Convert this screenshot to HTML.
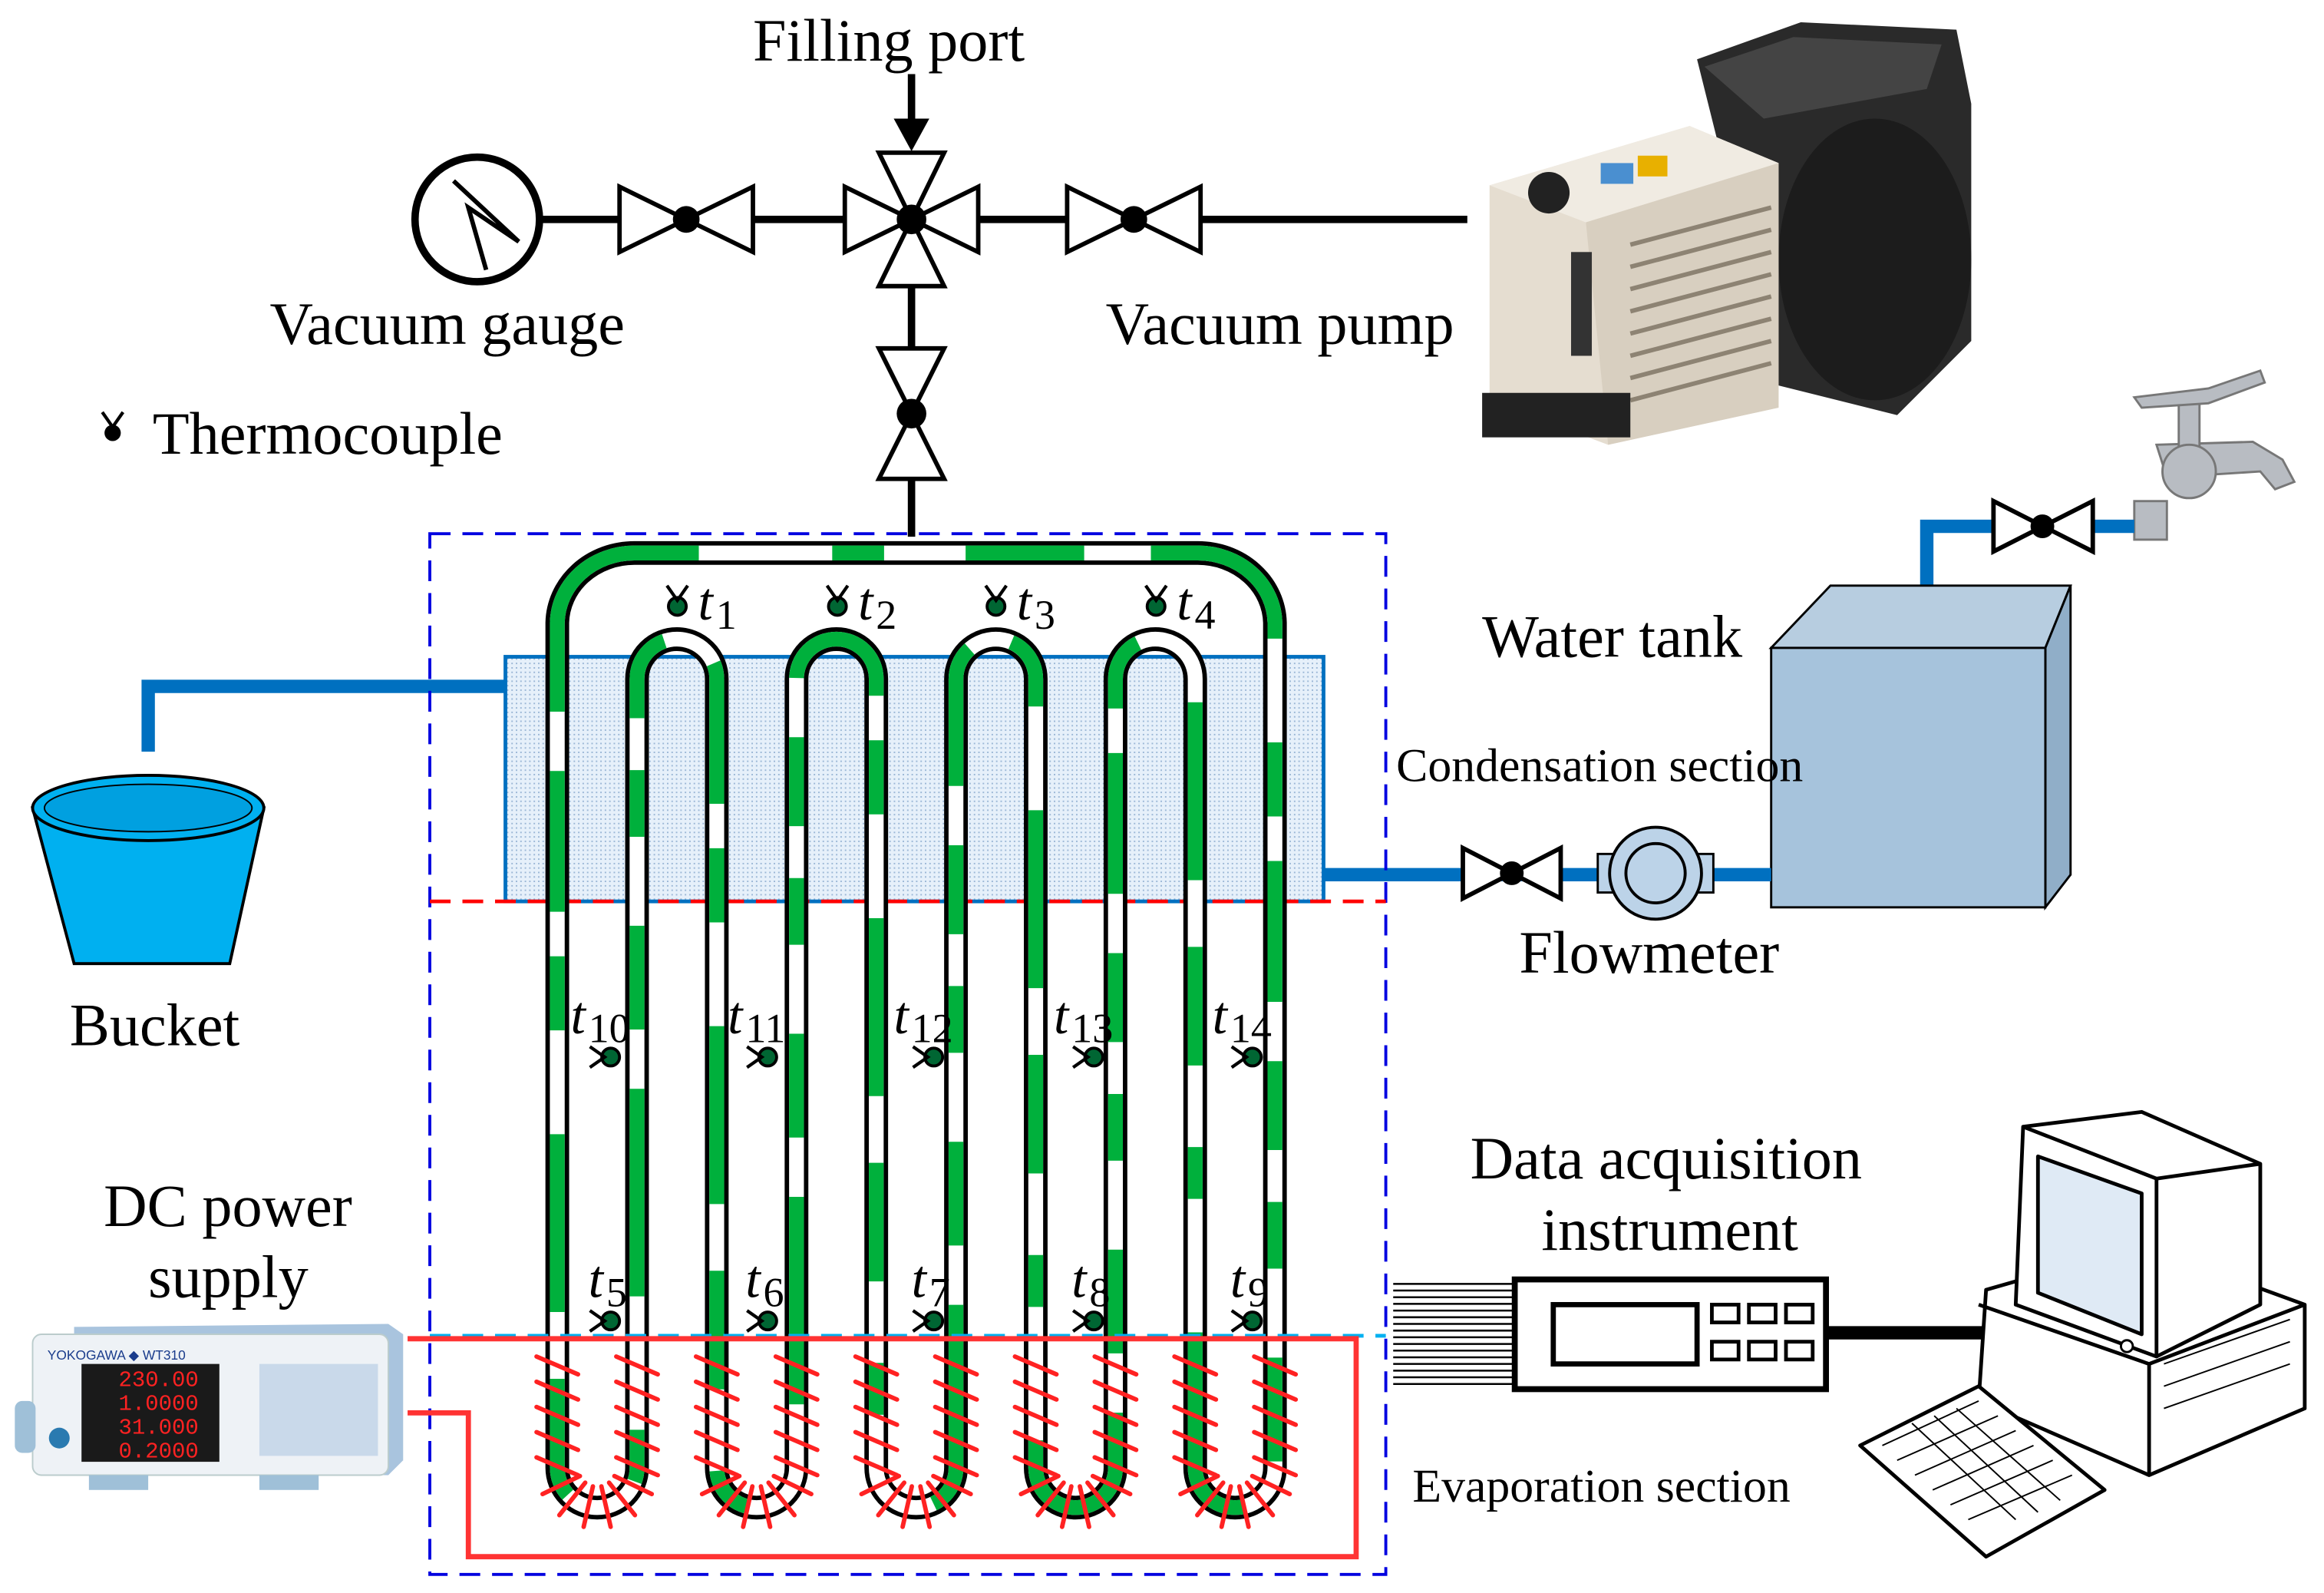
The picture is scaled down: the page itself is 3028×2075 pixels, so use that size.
<!DOCTYPE html>
<html><head><meta charset="utf-8"><style>
html,body{margin:0;padding:0;background:#fff;}
svg{display:block;}
text{font-family:"Liberation Serif",serif;fill:#000;}
</style></head><body>
<svg id="s" width="3028" height="2075" viewBox="0 0 1568 1074.5" preserveAspectRatio="none" xmlns="http://www.w3.org/2000/svg">
<defs>
<pattern id="dots" width="3" height="3" patternUnits="userSpaceOnUse"><rect width="3" height="3" fill="#e6f0fa"/><rect width="1" height="1" fill="#9bb7d6"/></pattern>
</defs>
<rect width="1568" height="1075" fill="#fff"/>

<!-- top piping -->
<line x1="364" y1="148" x2="990" y2="148" stroke="#000" stroke-width="5"/>
<line x1="615" y1="148" x2="615" y2="362" stroke="#000" stroke-width="5"/>
<circle cx="322" cy="148" r="42" fill="#fff" stroke="#000" stroke-width="5"/>
<path d="M306,122 L350,163 L316,140 L328,182" fill="none" stroke="#000" stroke-width="3"/>
<g fill="#fff" stroke="#000" stroke-width="3">
<path d="M418,126 L418,170 L508,126 L508,170 Z"/>
<path d="M720,126 L720,170 L810,126 L810,170 Z"/>
<path d="M570,126 L570,170 L660,126 L660,170 Z"/>
<path d="M593,103 L637,103 L593,193 L637,193 Z"/>
<path d="M593,235 L637,235 L593,323 L637,323 Z"/>
</g>
<circle cx="463" cy="148" r="9"/><circle cx="765" cy="148" r="9"/><circle cx="615" cy="148" r="10"/><circle cx="615" cy="279" r="10"/>
<line x1="615" y1="50" x2="615" y2="85" stroke="#000" stroke-width="5"/>
<path d="M603,80 L627,80 L615,102 Z"/>
<text x="508" y="41" font-size="40.5">Filling port</text>
<text x="182" y="232" font-size="40.5">Vacuum gauge</text>
<text x="746" y="232" font-size="40.5">Vacuum pump</text>
<text x="103" y="306" font-size="40.5">Thermocouple</text>
<g transform="translate(76,292)"><circle r="5.5"/><path d="M-7,-14 L0,-4 L7,-14" fill="none" stroke="#000" stroke-width="2.2"/></g>

<!-- vacuum pump -->
<g>
<path d="M1145,40 L1215,15 L1320,20 L1330,70 L1330,230 L1280,280 L1200,260 Z" fill="#2a2a2a"/>
<path d="M1150,45 L1210,25 L1310,30 L1300,60 L1190,80 Z" fill="#444"/>
<ellipse cx="1265" cy="175" rx="65" ry="95" fill="#1c1c1c"/>
<path d="M1005,125 L1140,85 L1200,110 L1200,275 L1085,300 L1005,270 Z" fill="#e5ddd0"/>
<path d="M1005,125 L1140,85 L1200,110 L1070,150 Z" fill="#f0ebe2"/>
<path d="M1070,150 L1200,110 L1200,275 L1085,300 Z" fill="#d8cfc0"/>
<g stroke="#8d8373" stroke-width="3">
<line x1="1100" y1="165" x2="1195" y2="140"/><line x1="1100" y1="180" x2="1195" y2="155"/><line x1="1100" y1="195" x2="1195" y2="170"/><line x1="1100" y1="210" x2="1195" y2="185"/><line x1="1100" y1="225" x2="1195" y2="200"/><line x1="1100" y1="240" x2="1195" y2="215"/><line x1="1100" y1="255" x2="1195" y2="230"/><line x1="1100" y1="270" x2="1195" y2="245"/>
</g>
<rect x="1060" y="170" width="14" height="70" fill="#333"/>
<circle cx="1045" cy="130" r="14" fill="#222"/>
<rect x="1080" y="110" width="22" height="14" fill="#4a8fd0"/><rect x="1105" y="105" width="20" height="14" fill="#e8b000"/>
<rect x="1000" y="265" width="100" height="30" fill="#222"/>
</g>

<!-- tap -->
<g fill="#b8bcc2" stroke="#777" stroke-width="1.5">
<rect x="1440" y="338" width="22" height="26"/>
<path d="M1455,300 L1520,298 L1540,310 L1548,325 L1535,330 L1525,318 L1462,322 Z"/>
<rect x="1470" y="270" width="14" height="32"/>
<path d="M1440,268 L1490,262 L1525,250 L1528,258 L1490,272 L1445,275 Z"/>
<circle cx="1477" cy="318" r="18"/>
</g>

<!-- water tank -->
<path d="M1300,412 L1300,355 L1440,355" fill="none" stroke="#0070c0" stroke-width="9"/>
<path d="M1345,338 L1345,372 L1412,338 L1412,372 Z" fill="#fff" stroke="#000" stroke-width="3"/>
<circle cx="1378" cy="355" r="8"/>
<path d="M1195,437 L1235,395 L1397,395 L1380,437 Z" fill="#b7cde0" stroke="#000" stroke-width="1.5"/>
<path d="M1380,437 L1397,395 L1397,590 L1380,612 Z" fill="#90aec8" stroke="#000" stroke-width="1.5"/>
<rect x="1195" y="437" width="185" height="175" fill="#a6c3dc" stroke="#000" stroke-width="1.5"/>
<text x="1000" y="443" font-size="40.5">Water tank</text>
<text x="942" y="527" font-size="32">Condensation section</text>
<path d="M893,590 L1195,590" stroke="#0070c0" stroke-width="9"/>
<path d="M987,572 L987,606 L1053,572 L1053,606 Z" fill="#fff" stroke="#000" stroke-width="3"/>
<circle cx="1020" cy="589" r="8"/>
<rect x="1078" y="576" width="78" height="26" fill="#bcd3e8" stroke="#000" stroke-width="1.5"/>
<circle cx="1117" cy="589" r="31" fill="#bcd3e8" stroke="#000" stroke-width="2"/>
<circle cx="1117" cy="589" r="20" fill="#bcd3e8" stroke="#000" stroke-width="2"/>
<text x="1025" y="656" font-size="40.5">Flowmeter</text>

<!-- bucket -->
<path d="M341,463 L100,463 L100,507" fill="none" stroke="#0070c0" stroke-width="9"/>
<path d="M22,545 L178,545 L155,650 L50,650 Z" fill="#00b0f0" stroke="#000" stroke-width="2"/>
<ellipse cx="100" cy="545" rx="78" ry="22" fill="#00b0f0" stroke="#000" stroke-width="2"/>
<ellipse cx="100" cy="545" rx="70" ry="16" fill="#00a0e0" stroke="#000" stroke-width="1"/>
<text x="47" y="705" font-size="40.5">Bucket</text>

<!-- boxes -->
<rect x="290" y="360" width="645" height="702" fill="none" stroke="#0000e0" stroke-width="2" stroke-dasharray="14,8"/>
<rect x="341" y="443" width="552" height="165" fill="url(#dots)" stroke="#0070c0" stroke-width="2.5"/>
<line x1="290" y1="608" x2="935" y2="608" stroke="#f00" stroke-width="2.5" stroke-dasharray="14,8"/>
<g id="tubes"></g>
<line x1="290" y1="901" x2="935" y2="901" stroke="#00b0f0" stroke-width="2.5" stroke-dasharray="14,8"/>
<path d="M275,903 L915,903 L915,1050 L316,1050 L316,953 L275,953" fill="none" stroke="#f33" stroke-width="3.5"/>
<g id="hatch" stroke="#f22" stroke-width="3" stroke-linecap="round"></g>
<g id="tc"></g>

<!-- DC power -->
<text x="70" y="827" font-size="40.5">DC power</text>
<text x="100" y="875" font-size="40.5">supply</text>
<g>
<path d="M50,895 L262,893 L272,900 L272,985 L262,995 L50,995 Z" fill="#a9c4de"/>
<rect x="22" y="900" width="240" height="95" rx="6" fill="#eef2f6" stroke="#bcc" stroke-width="1"/>
<text x="32" y="917" font-size="9" style="font-family:'Liberation Sans',sans-serif;fill:#1a3c8c">YOKOGAWA ◆ WT310</text>
<rect x="55" y="920" width="93" height="66" fill="#1a1a1a"/>
<text x="80" y="935" font-size="15" style="font-family:'Liberation Mono',monospace;fill:#f22">230.00</text>
<text x="80" y="951" font-size="15" style="font-family:'Liberation Mono',monospace;fill:#f22">1.0000</text>
<text x="80" y="967" font-size="15" style="font-family:'Liberation Mono',monospace;fill:#f22">31.000</text>
<text x="80" y="983" font-size="15" style="font-family:'Liberation Mono',monospace;fill:#f22">0.2000</text>
<rect x="175" y="920" width="80" height="62" fill="#c9d9ea"/>
<circle cx="40" cy="970" r="7" fill="#2a7ab0"/>
<rect x="10" y="945" width="14" height="35" rx="5" fill="#9fc0d8"/>
<rect x="60" y="995" width="40" height="10" fill="#9fc0d8"/><rect x="175" y="995" width="40" height="10" fill="#9fc0d8"/>
</g>

<!-- data acquisition -->
<text x="992" y="795" font-size="40.5">Data acquisition</text>
<text x="1040" y="843" font-size="40.5">instrument</text>
<g id="wires" stroke="#000" stroke-width="1.3"></g>
<rect x="1022" y="863" width="210" height="74" fill="#fff" stroke="#000" stroke-width="4"/>
<rect x="1048" y="880" width="97" height="40" fill="#fff" stroke="#000" stroke-width="3.5"/>
<g fill="#fff" stroke="#000" stroke-width="2.5">
<rect x="1155" y="880" width="18" height="12"/><rect x="1180" y="880" width="18" height="12"/><rect x="1205" y="880" width="18" height="12"/>
<rect x="1155" y="905" width="18" height="12"/><rect x="1180" y="905" width="18" height="12"/><rect x="1205" y="905" width="18" height="12"/>
</g>
<line x1="1232" y1="899" x2="1340" y2="899" stroke="#000" stroke-width="9"/>
<text x="953" y="1013" font-size="32">Evaporation section</text>

<!-- computer -->
<g stroke="#000" stroke-width="2.5" stroke-linejoin="round">
<path d="M1340,870 L1445,840 L1555,880 L1555,950 L1450,995 L1335,945 Z" fill="#fff"/>
<path d="M1335,880 L1450,920 L1555,880" fill="none"/>
<path d="M1450,920 L1450,995" fill="none"/>
<path d="M1365,760 L1445,750 L1525,785 L1525,880 L1455,915 L1360,880 Z" fill="#fff"/>
<path d="M1365,760 L1455,795 L1525,785" fill="none"/>
<path d="M1455,795 L1455,915" fill="none"/>
<path d="M1375,780 L1445,805 L1445,900 L1375,872 Z" fill="#dfeaf5"/>
<path d="M1255,975 L1335,935 L1420,1005 L1340,1050 Z" fill="#fff"/>
</g>
<g stroke="#000" stroke-width="1" fill="none">
<path d="M1270,975 L1335,945 M1280,985 L1348,955 M1292,995 L1360,965 M1304,1005 L1372,975 M1316,1015 L1385,985 M1328,1025 L1398,995"/>
<path d="M1290,960 L1360,1025 M1305,955 L1375,1020 M1320,950 L1390,1012"/>
<path d="M1460,920 L1545,890 M1460,935 L1545,905 M1460,950 L1545,920"/>
</g>
<circle cx="1435" cy="908" r="4" fill="#fff" stroke="#000" stroke-width="1.5"/>
</svg>
<script>
var NS="http://www.w3.org/2000/svg";
function el(p,t,a){var e=document.createElementNS(NS,t);for(var k in a)e.setAttribute(k,a[k]);p.appendChild(e);return e;}
var X=[];for(var i=0;i<10;i++)X.push(376+53.8*i);
var r=X[1]-X[0];r=r/2;
var d="M"+X[0]+",420 ";
for(var i=0;i<9;i++){
 if(i%2==0){d+="V990 A"+r+","+r+" 0 0 0 "+X[i+1]+",990 ";}
 else{d+="V458 A"+r+","+r+" 0 0 1 "+X[i+1]+",458 ";}
}
d+="V420 A52,48 0 0 0 "+(X[9]-52)+",373 H"+(X[0]+52)+" A52,48 0 0 0 "+X[0]+",420 Z";
var g=document.getElementById("tubes");
el(g,"path",{d:d,fill:"none",stroke:"#000","stroke-width":16});
el(g,"path",{d:d,fill:"none",stroke:"#fff","stroke-width":10});
el(g,"path",{d:d,fill:"none",stroke:"#00b03c","stroke-width":10,"stroke-dasharray":"60,40,95,30,50,70,120,45,80,55,35,90,140,40,70,60,45,35"});
var h=document.getElementById("hatch");
for(var i=0;i<10;i++){var x=X[i];
 for(var y=915;y<=985;y+=17){el(h,"line",{x1:x-14,y1:y,x2:x+14,y2:y+12});}
}
for(var i=0;i<10;i+=2){var cx=(X[i]+X[i+1])/2;
 for(var k=1;k<7;k++){var a=Math.PI*k/7;var c=Math.cos(a),s=Math.sin(a);
  el(h,"line",{x1:cx+c*(r-14),y1:990+s*(r-14),x2:cx+c*(r+14),y2:990+s*(r+14)});}
}
var tc=document.getElementById("tc");
function therm(x,y,up,sub,lx,ly){
 el(tc,"circle",{cx:x,cy:y,r:6,fill:"#063"});
 el(tc,"circle",{cx:x,cy:y,r:6,fill:"none",stroke:"#000","stroke-width":2});
 if(up)el(tc,"path",{d:"M"+(x-7)+","+(y-14)+" L"+x+","+(y-4)+" L"+(x+7)+","+(y-14),fill:"none",stroke:"#000","stroke-width":2.2});
 else el(tc,"path",{d:"M"+(x-14)+","+(y-7)+" L"+(x-4)+","+y+" L"+(x-14)+","+(y+7),fill:"none",stroke:"#000","stroke-width":2.2});
 var t=el(tc,"text",{x:lx,y:ly,"font-size":36,"font-style":"italic"});t.textContent="t";
 var s=el(tc,"text",{x:lx+12,y:ly+6,"font-size":28});s.textContent=sub;
}
[[457,1],[565,2],[672,3],[780,4]].forEach(function(p){therm(p[0],409,true,p[1],p[0]+14,418);});
[412,518,630,738,845].forEach(function(x,i){therm(x,713,false,10+i,x-27,697);therm(x,891,false,5+i,x-15,875);});
var w=document.getElementById("wires");
for(var y=866;y<=934;y+=4.5){el(w,"line",{x1:940,y1:y,x2:1022,y2:y});}
</script>
</body></html>
